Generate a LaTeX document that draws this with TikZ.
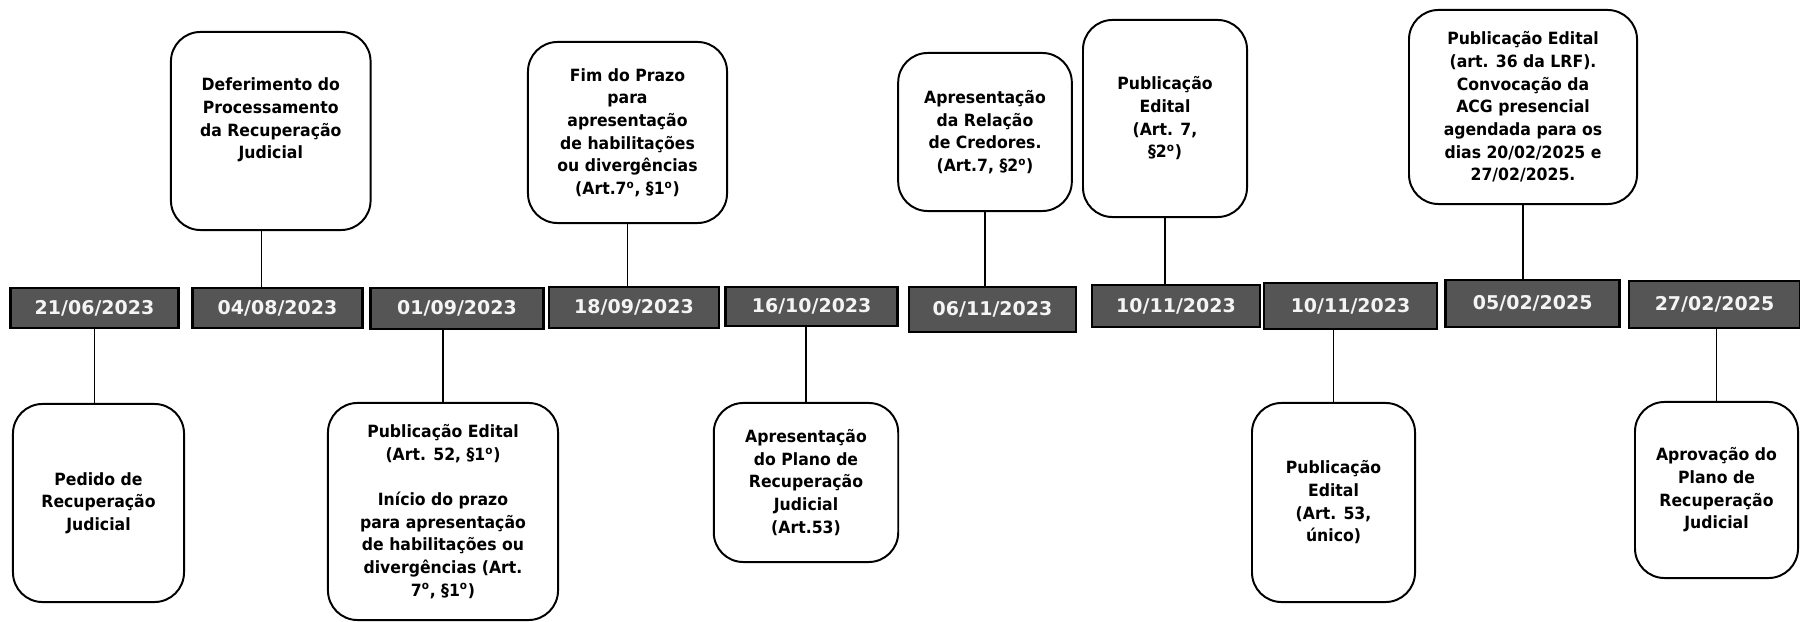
\documentclass[tikz,border=0pt]{standalone}
\usepackage{fontspec}
\setmainfont{DejaVu Sans}
\newfontfamily\caixafont{DejaVu Sans}[FakeStretch=0.93]
\definecolor{cinzadata}{HTML}{555555}
\definecolor{textodata}{HTML}{F4F4F4}
\newcommand{\ord}{\textsuperscript{o}}

\tikzset{
  evento/.style={draw, line width=1.4pt, rounded corners=21pt, align=center, inner sep=2pt,
    font=\caixafont\bfseries\fontsize{12}{16.1}\selectfont},
  data/.style={draw=black, fill=cinzadata, line width=2pt, text=textodata, inner sep=0pt,
    font=\bfseries\fontsize{13.5}{16}\selectfont},
  haste/.style={line width=0.8pt}
}

\begin{document}
\begin{tikzpicture}[x=0.025cm, y=-0.025cm]
  \useasboundingbox (0, 0) rectangle (1800, 622);

  \node[data, minimum width=4.2cm, minimum height=1cm] (d1) at (94.5, 308) {21/06/2023};
  \node[data, minimum width=4.25cm, minimum height=1cm] (d2) at (277.5, 308) {04/08/2023};
  \node[data, minimum width=4.315cm, minimum height=1.025cm] (d3) at (457, 308.5) {01/09/2023};
  \node[data, minimum width=4.25cm, minimum height=1.025cm] (d4) at (634, 307.5) {18/09/2023};
  \node[data, minimum width=4.3cm, minimum height=0.975cm] (d5) at (811.6, 306.5) {16/10/2023};
  \node[data, minimum width=4.175cm, minimum height=1.125cm] (d6) at (992.5, 309.5) {06/11/2023};
  \node[data, minimum width=4.2cm, minimum height=1.05cm] (d7) at (1176, 306) {10/11/2023};
  \node[data, minimum width=4.325cm, minimum height=1.15cm] (d8) at (1350.5, 306) {10/11/2023};
  \node[data, minimum width=4.35cm, minimum height=1.175cm] (d9) at (1532.7, 303.5) {05/02/2025};
  \node[data, minimum width=4.275cm, minimum height=1.175cm] (d10) at (1714.5, 304.5) {27/02/2025};

  \node[evento, minimum width=4.275cm, minimum height=4.95cm] (pedido) at (98.5, 503)
    {Pedido de\\Recuperação\\Judicial};
  \node[evento, minimum width=4.99cm, minimum height=4.95cm] (deferimento) at (270.75, 131)
    {Deferimento do\\Processamento\\da Recuperação\\Judicial\\[2pt]\mbox{}};
  \node[evento, minimum width=5.75cm, minimum height=5.425cm] (edital52) at (443, 511.5)
    {Publicação Edital\\(Art. 52, §1\ord)\\[16pt]Início do prazo\\para apresentação\\de habilitações ou\\divergências (Art.\\7\ord, §1\ord)};
  \node[evento, minimum width=4.975cm, minimum height=4.525cm] (fimprazo) at (627.5, 132.5)
    {Fim do Prazo\\para\\apresentação\\de habilitações\\ou divergências\\(Art.7\ord, §1\ord)};
  \node[evento, minimum width=4.61cm, minimum height=3.975cm] (plano) at (806, 482.5)
    {Apresentação\\do Plano de\\Recuperação\\Judicial\\(Art.53)};
  \node[evento, minimum width=4.34cm, minimum height=3.95cm] (relacao) at (985, 132)
    {Apresentação\\da Relação\\de Credores.\\(Art.7, §2\ord)};
  \node[evento, minimum width=4.1cm, minimum height=4.925cm] (edital7) at (1165, 118.5)
    {Publicação\\Edital\\(Art. 7,\\§2\ord)};
  \node[evento, minimum width=4.075cm, minimum height=4.975cm] (edital53) at (1333.5, 502.5)
    {Publicação\\Edital\\(Art. 53,\\único)};
  \node[evento, minimum width=5.7cm, minimum height=4.85cm] (edital36) at (1523, 107)
    {Publicação Edital\\(art. 36 da LRF).\\Convocação da\\ACG presencial\\agendada para os\\dias 20/02/2025 e\\27/02/2025.};
  \node[evento, minimum width=4.075cm, minimum height=4.4cm] (aprovacao) at (1716.5, 490)
    {Aprovação do\\Plano de\\Recuperação\\Judicial};

  \draw[haste] (d1.south) -- (d1.south |- pedido.north);
  \draw[haste] ([xshift=-6.4pt]deferimento.south) -- ([xshift=-6.4pt]deferimento.south |- d2.north);
  \draw[haste] (edital52.north) -- (edital52.north |- d3.south);
  \draw[haste] (fimprazo.south) -- (fimprazo.south |- d4.north);
  \draw[haste] (plano.north) -- (plano.north |- d5.south);
  \draw[haste] (relacao.south) -- (relacao.south |- d6.north);
  \draw[haste] (edital7.south) -- (edital7.south |- d7.north);
  \draw[haste] (edital53.north) -- (edital53.north |- d8.south);
  \draw[haste] (edital36.south) -- (edital36.south |- d9.north);
  \draw[haste] (aprovacao.north) -- (aprovacao.north |- d10.south);
\end{tikzpicture}
\end{document}
